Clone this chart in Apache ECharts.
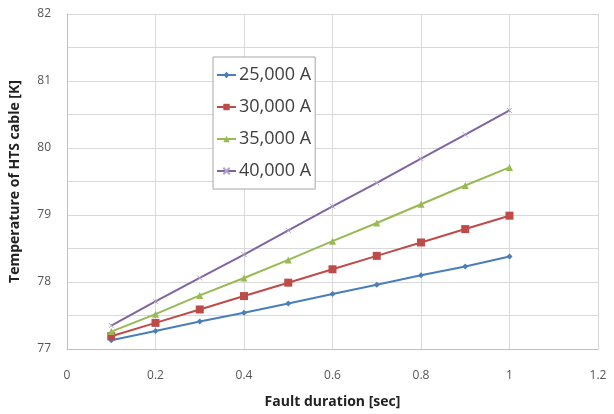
<!DOCTYPE html>
<html>
<head>
<meta charset="utf-8">
<script src="https://cdn.jsdelivr.net/npm/echarts@6/dist/echarts.min.js"></script>
<style>
  html, body { margin: 0; padding: 0; background: #fff; }
  #chart { width: 614px; height: 414px; }
</style>
</head>
<body>
<div id="chart"></div>
<script>
// fault duration [sec]
var durations = [0.1, 0.2, 0.3, 0.4, 0.5, 0.6, 0.7, 0.8, 0.9, 1.0];
var seriesNames = ['25,000 A', '30,000 A', '35,000 A', '40,000 A'];
// temperature [K] per current
var temp25k = [77.13, 77.27, 77.41, 77.54, 77.68, 77.82, 77.96, 78.10, 78.23, 78.38];
var temp30k = [77.19, 77.39, 77.59, 77.79, 77.99, 78.19, 78.39, 78.59, 78.79, 78.99];
var temp35k = [77.26, 77.52, 77.80, 78.06, 78.33, 78.61, 78.88, 79.16, 79.44, 79.71];
var temp40k = [77.35, 77.71, 78.06, 78.41, 78.77, 79.13, 79.48, 79.84, 80.20, 80.56];

var colors = ['#4a7ebb', '#be4b48', '#98b954', '#8064a2'];
var symbols = ['diamond', 'rect', 'triangle', 'path://M0,0L10,10M10,0L0,10'];
var sizes = [6, 8, 7, 5];

function pairs(vals) {
  return durations.map(function (d, i) { return [d, vals[i]]; });
}

var allTemps = [temp25k, temp30k, temp35k, temp40k];

var chart = echarts.init(document.getElementById('chart'));
chart.setOption({
  animation: false,
  color: colors,
  textStyle: { fontFamily: 'Open Sans' },
  grid: { left: 62, right: 16, top: 14, bottom: 57 },
  legend: {
    orient: 'vertical',
    left: 213,
    top: 57,
    itemGap: 14,
    itemWidth: 19,
    itemHeight: 8,
    padding: [9, 4, 9, 3],
    backgroundColor: '#fff',
    borderColor: '#a6a6a6',
    borderWidth: 1,
    textStyle: { fontSize: 18, color: '#404040', fontFamily: 'Open Sans', padding: [0, 0, 0, -2] },
    data: seriesNames
  },
  xAxis: {
    type: 'value',
    min: 0,
    max: 1.2,
    interval: 0.2,
    name: 'Fault duration [sec]',
    nameLocation: 'middle',
    nameGap: 46,
    nameTextStyle: { fontSize: 14, fontWeight: 'bold', color: '#222' },
    axisLine: { lineStyle: { color: '#bfbfbf' } },
    axisTick: { show: false },
    axisLabel: {
      margin: 21, fontSize: 12, color: '#555',
      formatter: function (v) { return String(Math.round(v * 10) / 10); }
    },
    splitLine: { show: true, lineStyle: { color: '#d9d9d9' } }
  },
  yAxis: {
    type: 'value',
    min: 77,
    max: 82,
    interval: 0.5,
    name: 'Temperature of HTS cable [K]',
    nameLocation: 'middle',
    nameGap: 45,
    nameTextStyle: { fontSize: 14, fontWeight: 'bold', color: '#222' },
    axisLine: { show: true, lineStyle: { color: '#bfbfbf' } },
    axisTick: { show: false },
    axisLabel: {
      margin: 16, fontSize: 12, color: '#555',
      formatter: function (v) { return Number.isInteger(v) ? String(v) : ''; }
    },
    splitLine: { show: true, lineStyle: { color: '#d9d9d9' } }
  },
  series: seriesNames.map(function (name, i) {
    return {
      name: name,
      type: 'line',
      data: pairs(allTemps[i]),
      symbol: symbols[i],
      symbolSize: sizes[i],
      showAllSymbol: true,
      lineStyle: { width: 2, color: colors[i] },
      itemStyle: i === 3
        ? { color: colors[i], borderColor: '#b3a2c7', borderWidth: 1 }
        : { color: colors[i] }
    };
  })
});
</script>
</body>
</html>
